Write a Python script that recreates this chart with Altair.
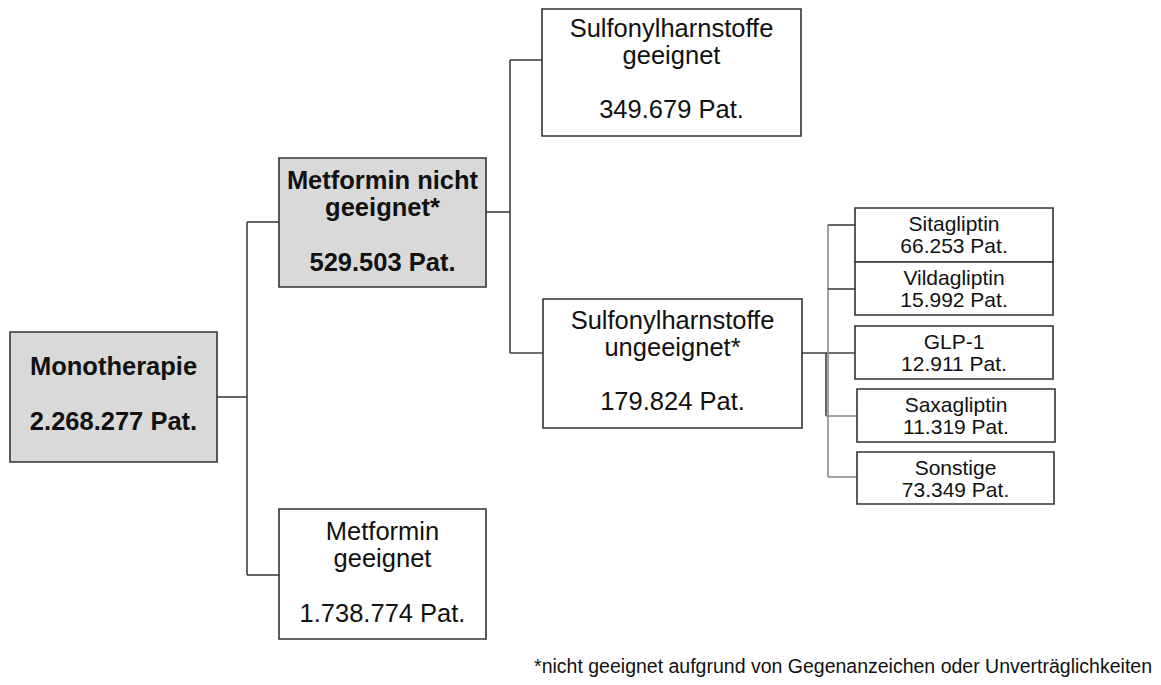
import altair as alt
import pandas as pd

# ---------------- data ----------------
root_label = ["Monotherapie"]
root_count = [2268277]
metformin_labels = [["Metformin nicht", "geeignet*"], ["Metformin", "geeignet"]]
metformin_counts = [529503, 1738774]
sulfonyl_labels = [["Sulfonylharnstoffe", "geeignet"], ["Sulfonylharnstoffe", "ungeeignet*"]]
sulfonyl_counts = [349679, 179824]
other_labels = ["Sitagliptin", "Vildagliptin", "GLP-1", "Saxagliptin", "Sonstige"]
other_counts = [66253, 15992, 12911, 11319, 73349]
footnote = "*nicht geeignet aufgrund von Gegenanzeichen oder Unverträglichkeiten"


def de(n):
    return f"{n:,}".replace(",", ".") + " Pat."


# ---------------- layout (pixel positions of the diagram) ----------------
GRAY = "#d9d9d9"
WHITE = "#ffffff"
DARK = "#404040"
LIGHT = "#8a8a8a"

boxes = []
texts = []


def add_box(x0, x1, y0, y1, fill, lines):
    boxes.append(dict(x=x0, x2=x1, y=y0, y2=y1, fill=fill))
    cx = (x0 + x1) / 2
    for txt, dy, style in lines:
        texts.append(dict(x=cx, y=y0 + dy, text=txt, style=style))


# root
add_box(10, 217, 332, 462, GRAY,
        [(root_label[0], 43, "bold"), (de(root_count[0]), 98, "bold")])
# level 2
lvl2_pos = [(279, 486, 158, 287, GRAY, "bold"), (279, 486, 509, 639, WHITE, "big")]
for (x0, x1, y0, y1, fill, st), lab, cnt in zip(lvl2_pos, metformin_labels, metformin_counts):
    add_box(x0, x1, y0, y1, fill, [(lab[0], 31, st), (lab[1], 58, st), (de(cnt), 113, st)])
# level 3
lvl3_pos = [(542, 801, 9, 136), (543, 802, 299, 428)]
for (x0, x1, y0, y1), lab, cnt in zip(lvl3_pos, sulfonyl_labels, sulfonyl_counts):
    top = y1 - 129
    add_box(x0, x1, y0, y1, WHITE, [])
    cx = (x0 + x1) / 2
    for txt, dy in [(lab[0], 30), (lab[1], 57), (de(cnt), 111)]:
        texts.append(dict(x=cx, y=top + dy, text=txt, style="big"))
# level 4
lvl4_pos = [(855, 1053, 208, 262), (855, 1053, 262, 315), (855, 1053, 326, 379),
            (857, 1055, 389, 442), (857, 1054, 452, 504)]
for (x0, x1, y0, y1), lab, cnt in zip(lvl4_pos, other_labels, other_counts):
    add_box(x0, x1, y0, y1, WHITE, [(lab, 23, "small"), (de(cnt), 45, "small")])

texts.append(dict(x=1152, y=673, text=footnote, style="foot"))

connectors = [
    (217, 397, 247, 397, DARK), (247, 222, 247, 575, DARK),
    (247, 222, 279, 222, DARK), (247, 575, 279, 575, DARK),
    (486, 212, 510, 212, DARK), (510, 60, 510, 353, DARK),
    (510, 60, 542, 60, DARK), (510, 353, 543, 353, DARK),
    (802, 353, 855, 353, DARK),
    (828, 225, 828, 477, LIGHT), (826, 353, 826, 416, DARK),
    (828, 225, 855, 225, DARK), (828, 289, 855, 289, DARK),
    (826, 416, 857, 416, LIGHT), (828, 477, 857, 477, LIGHT),
]
lines_df = pd.DataFrame(connectors, columns=["x", "y", "x2", "y2", "color"])
boxes_df = pd.DataFrame(boxes)
texts_df = pd.DataFrame(texts)

W, H = 1145, 669
xs = alt.Scale(domain=[8, 8 + W], nice=False, zero=False)
ys = alt.Scale(domain=[8, 8 + H], nice=False, zero=False, reverse=True)
X = lambda f: alt.X(f, type="quantitative", scale=xs, axis=None)
Y = lambda f: alt.Y(f, type="quantitative", scale=ys, axis=None)

rules = alt.Chart(lines_df).mark_rule(strokeWidth=1.6).encode(
    x=X("x"), y=Y("y"), x2="x2", y2="y2",
    color=alt.Color("color:N", scale=None))

rects = alt.Chart(boxes_df).mark_rect(stroke="#333333", strokeWidth=1.6).encode(
    x=X("x"), x2="x2", y=Y("y"), y2="y2",
    fill=alt.Fill("fill:N", scale=None))

FONT = "Liberation Sans"
styles = {
    "bold": dict(fontSize=25.5, fontWeight="bold", align="center"),
    "big": dict(fontSize=25.5, fontWeight="normal", align="center"),
    "small": dict(fontSize=21, fontWeight="normal", align="center"),
    "foot": dict(fontSize=19.5, fontWeight="normal", align="right"),
}
text_layers = []
for st, kw in styles.items():
    text_layers.append(
        alt.Chart(texts_df[texts_df["style"] == st]).mark_text(
            font=FONT, baseline="alphabetic", color="#111111", **kw
        ).encode(x=X("x"), y=Y("y"), text="text:N")
    )

chart = alt.layer(rules, rects, *text_layers).properties(
    width=W, height=H, padding=0, autosize=alt.AutoSizeParams(type="none")
).configure_view(stroke=None)

chart.save("out.html", embed_options={"renderer": "svg", "actions": False})
